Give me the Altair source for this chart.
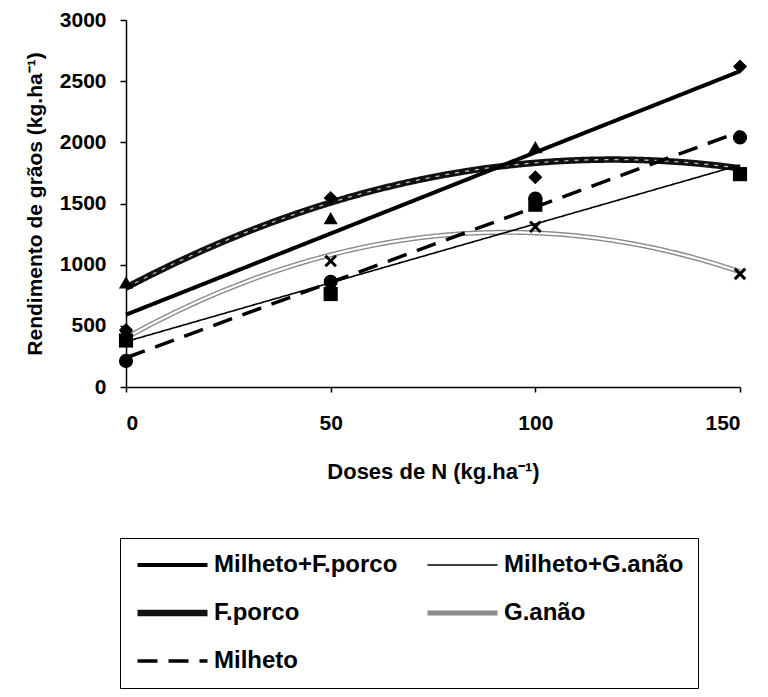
import altair as alt
import pandas as pd

doses = [0, 50, 100, 150]
series = ["Milheto+F.porco", "Milheto+G.anão", "F.porco", "G.anão", "Milheto"]
milheto_fporco = [465, 1545, 1715, 2620]
milheto_ganao = [380, 760, 1490, 1740]
fporco = [855, 1380, 1960, 1745]
ganao = [420, 1030, 1310, 925]
milheto = [213, 860, 1540, 2040]

values = [milheto_fporco, milheto_ganao, fporco, ganao, milheto]
rows = []
for s, vals in zip(series, values):
    for d, v in zip(doses, vals):
        rows.append({"dose": d, "valor": v, "serie": s})
df = pd.DataFrame(rows)

FONT = "Liberation Sans"
linear_series = ["Milheto+F.porco", "Milheto+G.anão", "Milheto"]
poly_series = ["F.porco", "G.anão"]
marker_shapes = {
    "Milheto+F.porco": "diamond",
    "Milheto+G.anão": "square",
    "F.porco": "triangle-up",
    "Milheto": "circle",
}

leg = alt.Legend(
    title=None, orient="none", legendX=-6, legendY=518, columns=2, direction="horizontal",
    strokeColor="black", padding=14, columnPadding=26, rowPadding=22, clipHeight=26,
    symbolType="stroke", symbolSize=4900,
    labelFont=FONT, labelFontSize=24, labelFontWeight="bold", labelColor="black",
    labelLimit=400, labelOffset=3,
)

x_enc = alt.X("dose:Q", scale=alt.Scale(domain=[0, 150], nice=False),
              axis=alt.Axis(values=[0, 50, 100, 150], title="Doses de N (kg.ha⁻¹)",
                            labelPadding=20, tickSize=5, titlePadding=28, titleFontSize=22))
y_enc = alt.Y("valor:Q", scale=alt.Scale(domain=[0, 3000], nice=False),
              axis=alt.Axis(values=[0, 500, 1000, 1500, 2000, 2500, 3000], format="d",
                            title="Rendimento de grãos (kg.ha⁻¹)",
                            labelPadding=14, tickSize=6, titlePadding=14, titleFontSize=21))

color = alt.Color("serie:N", scale=alt.Scale(domain=series,
                  range=["#000000", "#000000", "#111111", "#8a8a8a", "#000000"]),
                  legend=leg)
width = alt.StrokeWidth("serie:N", scale=alt.Scale(type="ordinal", domain=series,
                        range=[4, 1.6, 6.5, 5, 3.5]), legend=leg)
dash = alt.StrokeDash("serie:N", scale=alt.Scale(type="ordinal", domain=series,
                      range=[[1, 0], [1, 0], [1, 0], [1, 0], [20, 11]]), legend=leg)

base = alt.Chart(df)

lin = base.transform_filter(
    alt.FieldOneOfPredicate(field="serie", oneOf=linear_series)
).transform_regression("dose", "valor", groupby=["serie"], method="linear", extent=[0, 150]
).mark_line().encode(x=x_enc, y=y_enc, color=color, strokeWidth=width, strokeDash=dash)

poly = base.transform_filter(
    alt.FieldOneOfPredicate(field="serie", oneOf=poly_series)
).transform_regression("dose", "valor", groupby=["serie"], method="poly", order=2, extent=[0, 150]
).mark_line().encode(x=x_enc, y=y_enc, color=color, strokeWidth=width, strokeDash=dash)

fp_center = base.transform_filter(alt.datum.serie == "F.porco").transform_regression(
    "dose", "valor", method="poly", order=2, extent=[0, 150]
).mark_line(stroke="#bbbbbb", strokeWidth=1.3, strokeDash=[4, 6]).encode(x="dose:Q", y="valor:Q")

ga_center = base.transform_filter(alt.datum.serie == "G.anão").transform_regression(
    "dose", "valor", method="poly", order=2, extent=[0, 150]
).mark_line(stroke="#ffffff", strokeWidth=2.2).encode(x="dose:Q", y="valor:Q")

point_layers = []
for s, shp in marker_shapes.items():
    point_layers.append(
        base.transform_filter(alt.datum.serie == s).mark_point(
            shape=shp, filled=True, size=200, opacity=1, color="black"
        ).encode(x="dose:Q", y="valor:Q")
    )

xs = base.transform_filter(alt.datum.serie == "G.anão").mark_point(
    shape="M-1,-1L1,1M-1,1L1,-1", filled=False, size=110, strokeWidth=3, color="black", opacity=1
).encode(x="dose:Q", y="valor:Q")

chart = alt.layer(poly, fp_center, ga_center, lin, *point_layers, xs).properties(
    width=614, height=367,
    autosize=alt.AutoSizeParams(type="none"),
    padding={"left": 126, "top": 20, "right": 28, "bottom": 310},
    background="white",
).configure_view(stroke=None).configure_axis(
    labelFont=FONT, titleFont=FONT, labelFontSize=21,
    labelFontWeight="bold", titleFontWeight="bold", labelColor="black", titleColor="black",
    domainColor="black", tickColor="black", domainWidth=1.5, tickWidth=1.5, grid=False,
)

chart.save("out.html", embed_options={"renderer": "svg", "actions": False})
